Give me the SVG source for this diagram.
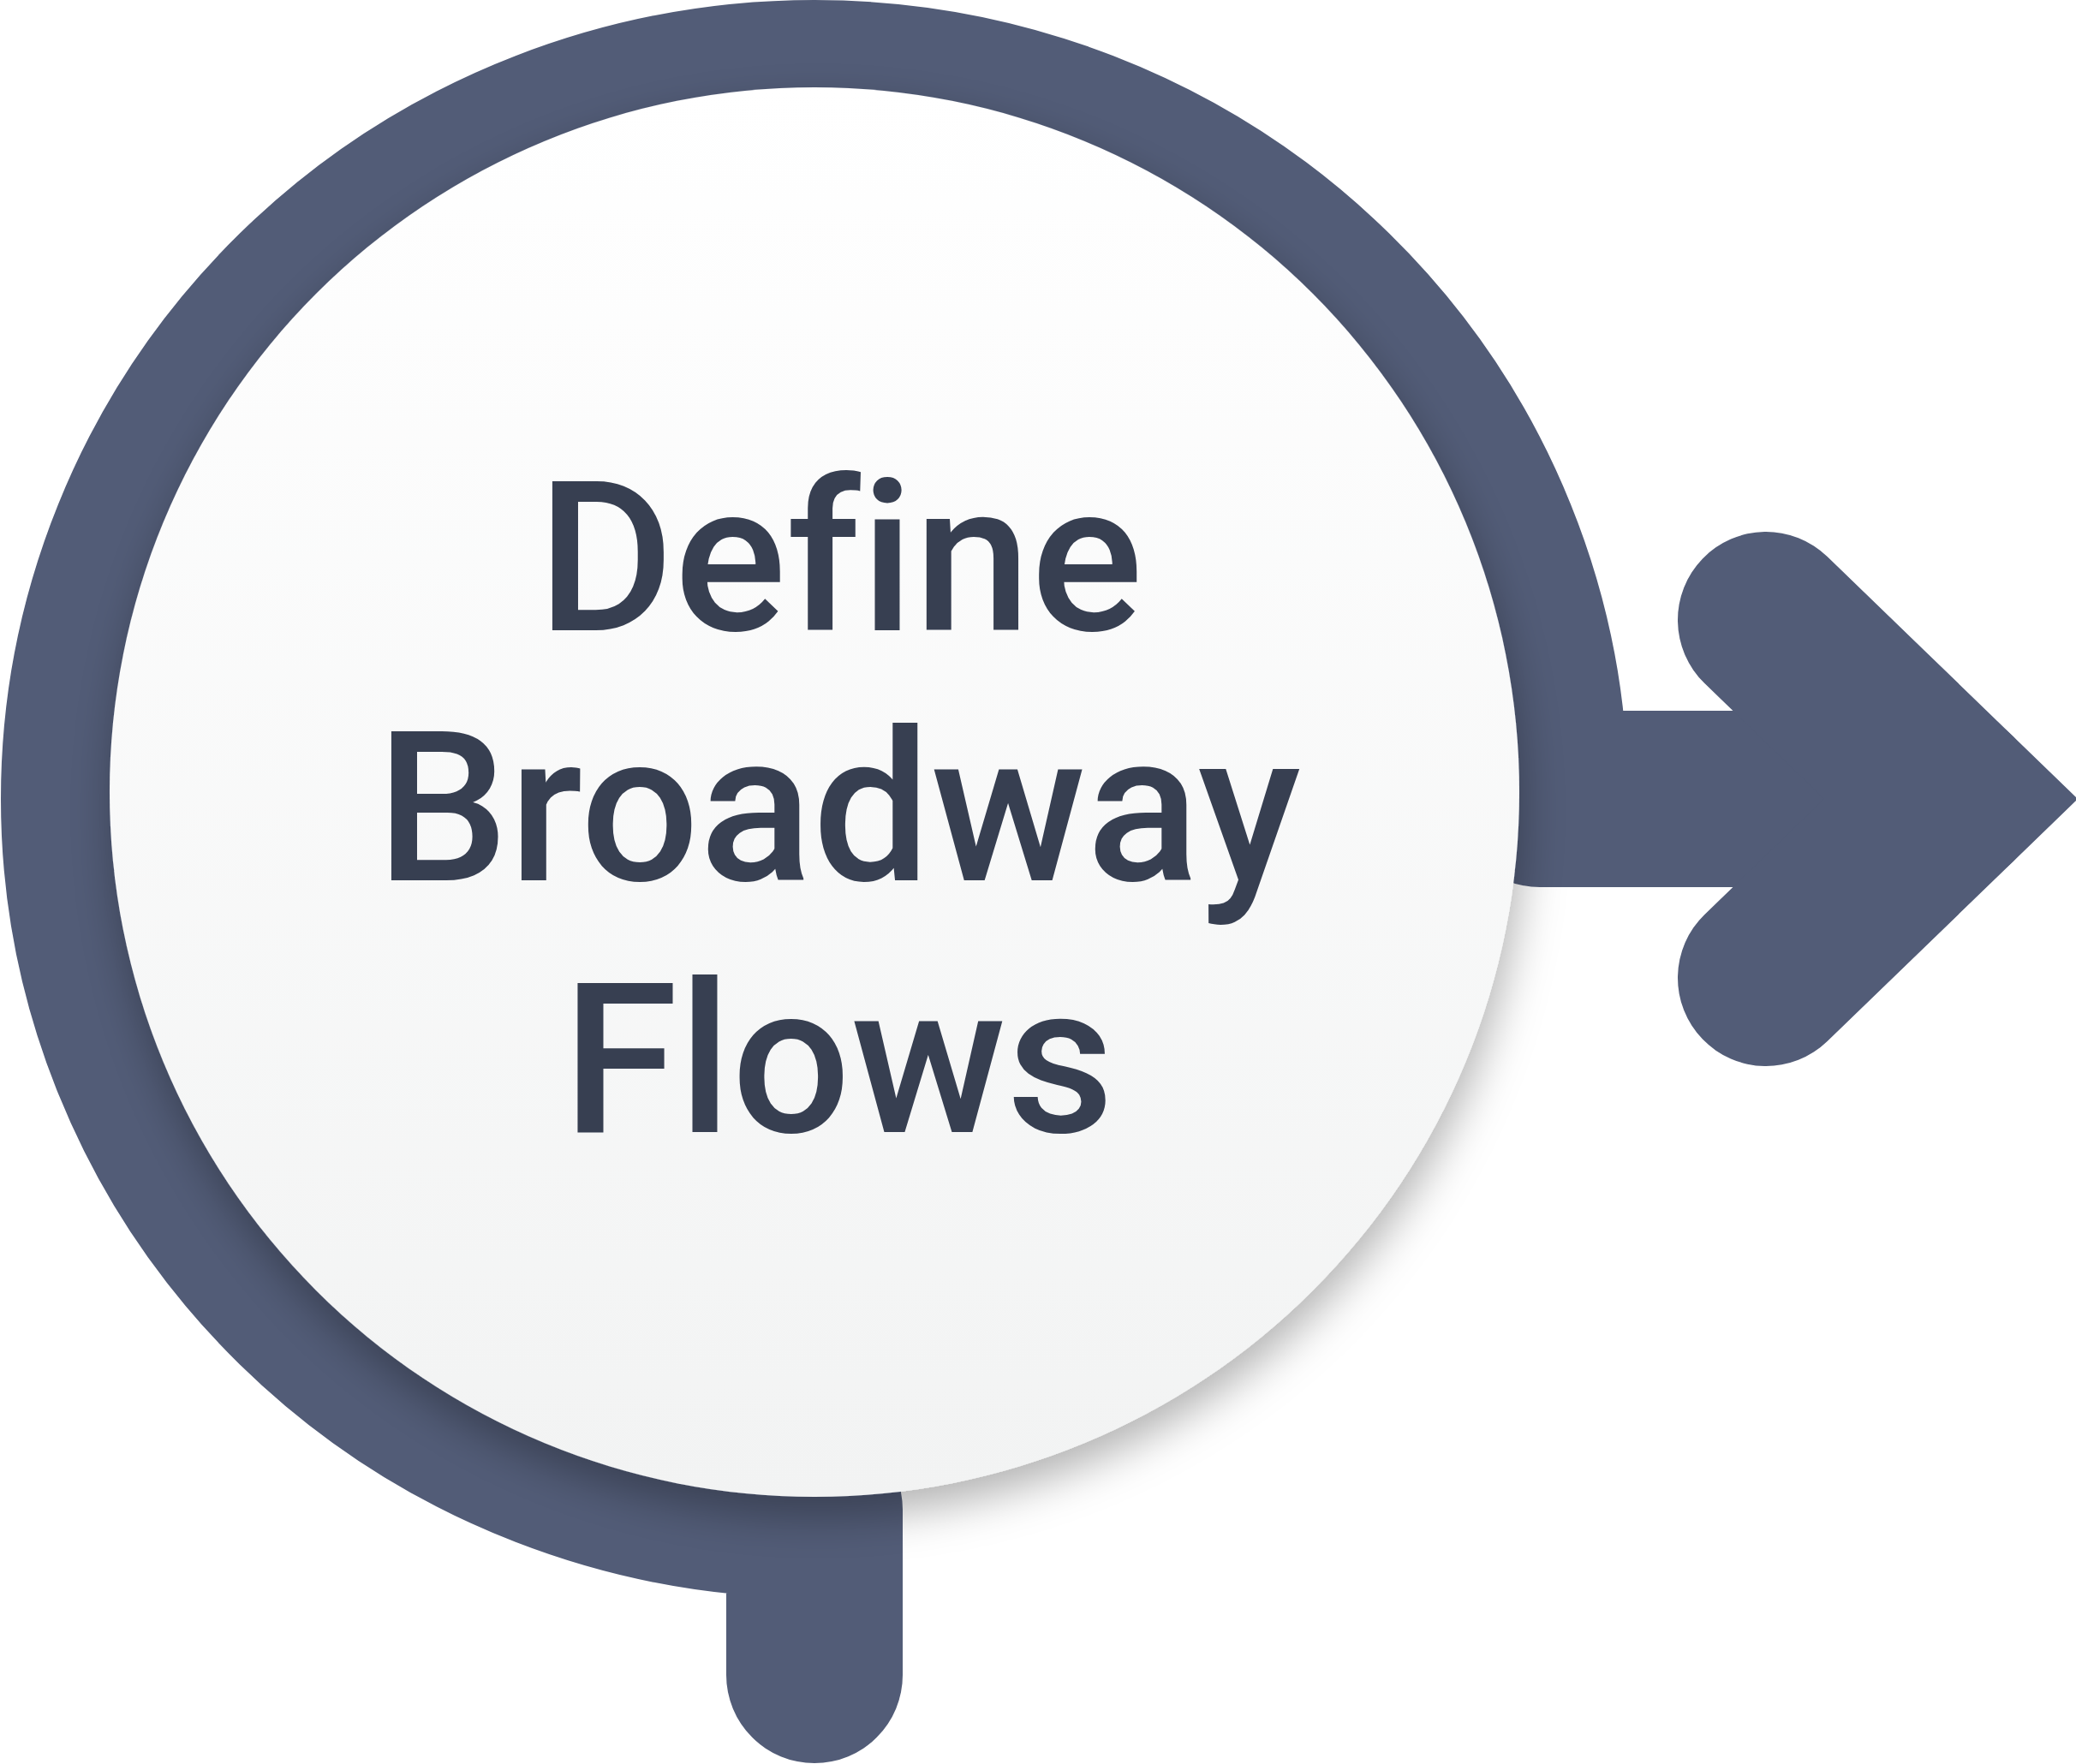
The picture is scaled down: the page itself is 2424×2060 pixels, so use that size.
<svg xmlns="http://www.w3.org/2000/svg" width="2424" height="2060" viewBox="0 0 2424 2060">
  <defs>
    <linearGradient id="faceGrad" x1="0" y1="0" x2="0" y2="1">
      <stop offset="0" stop-color="#FFFFFF"/>
      <stop offset="1" stop-color="#F2F3F3"/>
    </linearGradient>
    <filter id="shadow" x="-15%" y="-15%" width="130%" height="135%">
      <feDropShadow dx="4" dy="22" stdDeviation="26" flood-color="#000000" flood-opacity="0.3"/>
    </filter>
  </defs>
  <style>
    .band { fill: none; stroke: #525C77; stroke-width: 206; }
    .label { font-family: Roboto, "Liberation Sans", sans-serif; font-weight: 500; font-size: 245px; fill: #373F51; text-anchor: middle; font-variant-ligatures: none; font-feature-settings: "liga" 0; }
  </style>
  <rect x="0" y="0" width="2424" height="2060" fill="#FFFFFF"/>
  <g id="connectors">
    <path class="band" stroke-linecap="round" stroke-linejoin="round" d="M951,1956 L951,1763 A847,830 0 1 1 1798,933 L2278,933"/>
    <path class="band" stroke-linecap="round" stroke-linejoin="miter" d="M2062,724 L2278,933 L2062,1142"/>
  </g>
  <g id="node-define-broadway-flows">
    <circle cx="951" cy="925" r="823" fill="url(#faceGrad)" filter="url(#shadow)"/>
    <text class="label" x="981" y="736">Define</text>
    <text class="label" x="979" y="1028">Broadway</text>
    <text class="label" x="979" y="1322">Flows</text>
  </g>
</svg>
